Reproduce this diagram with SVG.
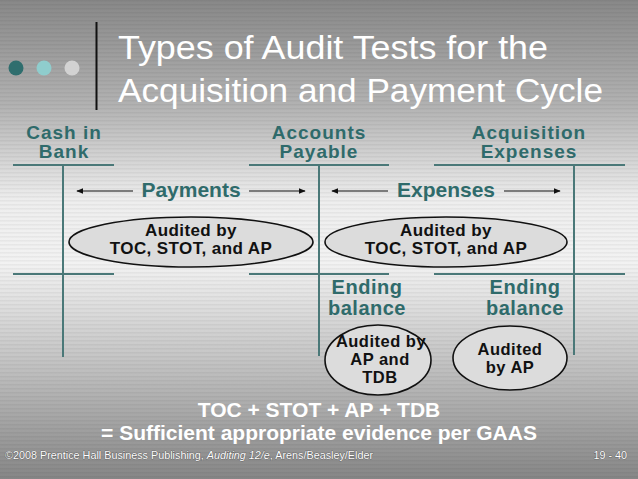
<svg xmlns="http://www.w3.org/2000/svg" width="638" height="479" viewBox="0 0 638 479">
<defs>
<linearGradient id="bg" x1="0" y1="0" x2="0" y2="1">
<stop offset="0" stop-color="#888888"/>
<stop offset="0.22" stop-color="#b2b2b2"/>
<stop offset="0.42" stop-color="#eeeeee"/>
<stop offset="0.55" stop-color="#f2f2f2"/>
<stop offset="0.75" stop-color="#c4c4c4"/>
<stop offset="1" stop-color="#868686"/>
</linearGradient>
<pattern id="stripes" width="8" height="4" patternUnits="userSpaceOnUse">
<rect x="0" y="0" width="8" height="1.5" fill="#000" fill-opacity="0.045"/>
</pattern>
<marker id="ah" viewBox="0 0 10 10" refX="9" refY="5" markerWidth="6" markerHeight="6" orient="auto-start-reverse">
<path d="M0,1 L10,5 L0,9 z" fill="#111"/>
</marker>
</defs>
<style>
.hdr{font-family:"Liberation Sans",Arial,sans-serif;font-weight:bold;font-size:19px;letter-spacing:1px;fill:#2f6b6b;text-anchor:middle}
.lbl{font-family:"Liberation Sans",Arial,sans-serif;font-weight:bold;font-size:21px;fill:#2f6b6b;text-anchor:middle}
.eb{font-family:"Liberation Sans",Arial,sans-serif;font-weight:bold;font-size:20px;letter-spacing:0.5px;fill:#2f6b6b;text-anchor:middle}
.ell{fill:#dcdcdc;stroke:#111;stroke-width:1.6}
.et{font-family:"Liberation Sans",Arial,sans-serif;font-weight:bold;font-size:17px;letter-spacing:0.4px;fill:#111;text-anchor:middle}
.es{font-family:"Liberation Sans",Arial,sans-serif;font-weight:bold;font-size:16.5px;letter-spacing:0.5px;fill:#111;text-anchor:middle}
.tl{stroke:#4a7878;stroke-width:2;fill:none}
.arr{stroke:#111;stroke-width:1.2;fill:none;marker-end:url(#ah)}
.title{font-family:"Liberation Sans",Arial,sans-serif;font-size:33px;fill:#ffffff}
.bot{font-family:"Liberation Sans",Arial,sans-serif;font-weight:bold;font-size:21px;fill:#ffffff;text-anchor:middle}
.foot{font-family:"Liberation Sans",Arial,sans-serif;font-size:10.8px;fill:#ffffff;stroke:#444;stroke-width:0.6;paint-order:stroke}
</style>
<rect width="638" height="479" fill="url(#bg)"/>
<rect width="638" height="479" fill="url(#stripes)"/>

<g id="title">
<circle cx="16" cy="68" r="7.5" fill="#2f6e6e"/>
<circle cx="44" cy="68" r="7.5" fill="#8fcdcd"/>
<circle cx="72" cy="68" r="7.5" fill="#d2d2d2"/>
<line x1="96.5" y1="22" x2="96.5" y2="110" stroke="#111" stroke-width="2"/>
<text class="title" x="118" y="59" textLength="430" lengthAdjust="spacingAndGlyphs">Types of Audit Tests for the</text>
<text class="title" x="118" y="102" textLength="485" lengthAdjust="spacingAndGlyphs">Acquisition and Payment Cycle</text>
</g>

<g id="cash-in-bank">
<text class="hdr" x="64" y="139">Cash in</text>
<text class="hdr" x="64" y="158">Bank</text>
<line class="tl" x1="13" y1="165" x2="114" y2="165"/>
<line class="tl" x1="63" y1="165" x2="63" y2="357"/>
<line class="tl" x1="13" y1="274" x2="114" y2="274"/>
</g>

<g id="accounts-payable">
<text class="hdr" x="319" y="139">Accounts</text>
<text class="hdr" x="319" y="158">Payable</text>
<line class="tl" x1="249" y1="165" x2="389" y2="165"/>
<line class="tl" x1="319" y1="165" x2="319" y2="356"/>
<line class="tl" x1="249" y1="274" x2="389" y2="274"/>
</g>

<g id="acquisition-expenses">
<text class="hdr" x="529" y="139">Acquisition</text>
<text class="hdr" x="529" y="158">Expenses</text>
<line class="tl" x1="434" y1="165" x2="625" y2="165"/>
<line class="tl" x1="574" y1="165" x2="574" y2="355"/>
<line class="tl" x1="434" y1="274" x2="625" y2="274"/>
</g>

<g id="connectors">
<line class="arr" x1="133" y1="191" x2="77" y2="191"/>
<line class="arr" x1="249" y1="191" x2="305" y2="191"/>
<line class="arr" x1="388" y1="191" x2="332" y2="191"/>
<line class="arr" x1="504" y1="191" x2="560" y2="191"/>
</g>

<g id="payments-label">
<text class="lbl" x="191" y="197">Payments</text>
</g>
<g id="expenses-label">
<text class="lbl" x="446" y="197">Expenses</text>
</g>

<g id="payments-audit">
<ellipse class="ell" cx="191" cy="242" rx="122" ry="25"/>
<text class="et" x="191" y="236">Audited by</text>
<text class="et" x="191" y="254">TOC, STOT, and AP</text>
</g>

<g id="expenses-audit">
<ellipse class="ell" cx="446" cy="242" rx="121" ry="25"/>
<text class="et" x="446" y="236">Audited by</text>
<text class="et" x="446" y="254">TOC, STOT, and AP</text>
</g>

<g id="ap-ending">
<text class="eb" x="367" y="294">Ending</text>
<text class="eb" x="367" y="315">balance</text>
</g>
<g id="ae-ending">
<text class="eb" x="525" y="294">Ending</text>
<text class="eb" x="525" y="315">balance</text>
</g>

<g id="ap-audit">
<ellipse class="ell" cx="378" cy="360" rx="53" ry="35"/>
<text class="es" x="381" y="347">Audited by</text>
<text class="es" x="380" y="365">AP and</text>
<text class="es" x="380" y="383">TDB</text>
</g>

<g id="ae-audit">
<ellipse class="ell" cx="510" cy="358" rx="57" ry="32"/>
<text class="es" x="510" y="355">Audited</text>
<text class="es" x="510" y="373">by AP</text>
</g>

<g id="summary">
<text class="bot" x="319" y="417">TOC + STOT + AP + TDB</text>
<text class="bot" x="319" y="440">= Sufficient appropriate evidence per GAAS</text>
</g>

<g id="footer">
<text class="foot" x="5" y="459">©2008 Prentice Hall Business Publishing, <tspan font-style="italic">Auditing 12/e</tspan>, Arens/Beasley/Elder</text>
<text class="foot" x="627" y="459" text-anchor="end">19 - 40</text>
</g>
</svg>
